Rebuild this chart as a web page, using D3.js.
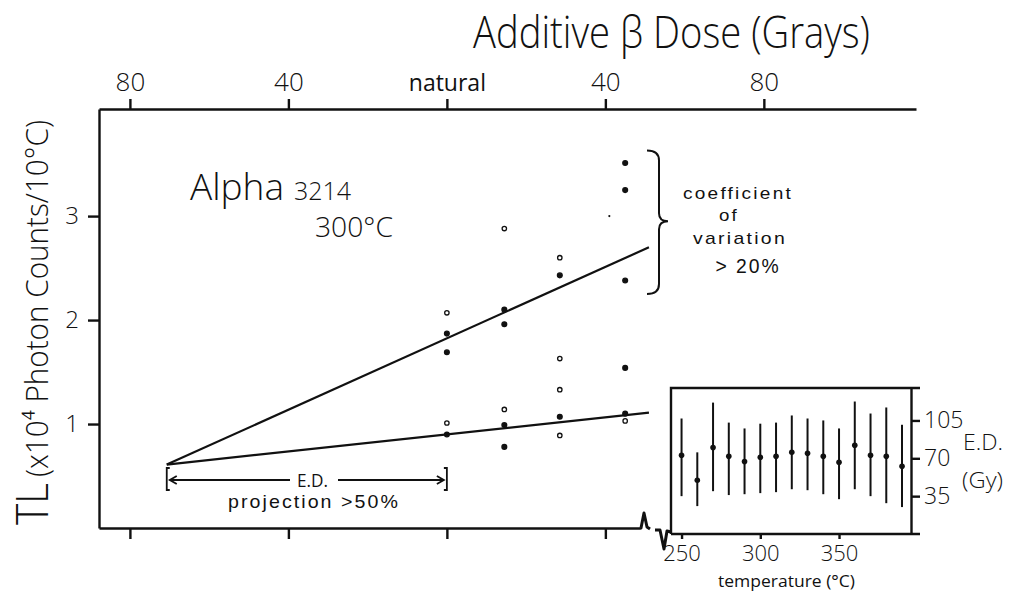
<!DOCTYPE html>
<html>
<head>
<meta charset="utf-8">
<script src="https://cdn.jsdelivr.net/npm/d3@7"></script>
<style>
  body { margin: 0; background: #fff; }
  svg { display: block; }
  text { font-family: 'Open Sans', 'Liberation Sans', sans-serif; font-weight: 300; fill: #111; }
  .eixo path, .eixo line { stroke: #111; stroke-width: 2.4; }
  .eixo text { font-family: 'Open Sans', 'Liberation Sans', sans-serif; font-weight: 400; fill: #111; }
  .rotulo-fino { font-family: 'Liberation Sans', sans-serif; font-weight: 400; letter-spacing: 2px; }
</style>
</head>
<body>
<svg id="grafico"></svg>
<script>
// dose aditiva (Gy), negativa a esquerda do "natural"
const doseTicks = [-80, -40, 0, 40, 80];
const doseTickLabels = ['80', '40', 'natural', '40', '80'];
const tlTicks = [1, 2, 3];

// pontos medidos: dose, TL (x10^4), aberto?
const pointDose = [0, 0, 0, 0, 0,
  14.5, 14.5, 14.5, 14.5, 14.5, 14.5,
  28.5, 28.5, 28.5, 28.5, 28.5, 28.5,
  45, 45, 45, 45, 45, 45];
const pointTL = [2.07, 1.87, 1.69, 1.01, 0.90,
  2.88, 2.10, 1.96, 1.14, 0.99, 0.78,
  2.60, 2.43, 1.63, 1.33, 1.07, 0.89,
  3.51, 3.25, 2.38, 1.54, 1.10, 1.03];
const pointOpen = [1, 0, 0, 1, 0,
  1, 0, 0, 1, 0, 0,
  1, 0, 1, 1, 0, 1,
  0, 0, 0, 0, 0, 1];
const speckDose = [41];
const speckTL = [3.0];

// retas ajustadas (extrapoladas ate o eixo de dose)
const upperLine = [[-70.7, 0.61], [51, 2.70]];
const lowerLine = [[-70.7, 0.61], [51, 1.11]];

// grafico inserido: E.D. por temperatura
const temps = [250, 260, 270, 280, 290, 300, 310, 320, 330, 340, 350, 360, 370, 380, 390];
const edCenter = [72.8, 49.7, 80, 71.8, 67, 70.9, 71.8, 75.5, 74.6, 71.8, 66.3, 82, 72.8, 71.8, 62.6];
const edLow = [35, 25.8, 39.6, 36, 36.8, 37.8, 38.7, 41.4, 40.5, 36.8, 32.2, 41.4, 35, 28.5, 24.9];
const edHigh = [106.8, 75.5, 121.5, 103, 97.6, 102, 103, 109.6, 106.8, 105, 97.6, 122.5, 111.4, 117, 101];
const tempTicks = [250, 300, 350];
const edTicks = [35, 70, 105];

const largura = 1010, altura = 597;
const svg = d3.select('#grafico').attr('width', largura).attr('height', altura);

// escalas principais
const x = d3.scaleLinear().domain([-87.8, 118.4]).range([99, 916]);
const y = d3.scaleLinear().domain([0, 4.03]).range([528, 109]);

// eixo superior (dose)
svg.append('g')
    .attr('class', 'eixo')
    .attr('transform', `translate(0, ${y.range()[1]})`)
    .call(d3.axisTop(x).tickValues(doseTicks).tickSize(10).tickSizeOuter(0).tickPadding(8)
      .tickFormat((d, i) => doseTickLabels[i]))
    .call(g => g.selectAll('text').style('font-size', d => d === 0 ? '23px' : '26px').style('font-weight', d => d === 0 ? 400 : 300));

// eixo inferior, interrompido antes do grafico inserido
const xInf = x.copy().domain([x.domain()[0], x.invert(640)]).range([99, 640]);
svg.append('g')
    .attr('class', 'eixo')
    .attr('transform', `translate(0, ${y.range()[0]})`)
    .call(d3.axisBottom(xInf).tickValues(doseTicks.slice(0, 4)).tickSize(11).tickSizeOuter(0).tickFormat(''));

// quebra do eixo
const y0 = y(0);
svg.append('path')
    .attr('d', `M640,${y0} L641,${y0} L644,${y0 - 15} L647,${y0 - 1} L650,${y0 + 1}
                M655,${y0 + 2} L660,${y0 + 2} L664,${y0 + 21} L667,${y0 + 3} L671,${y0 + 4}`)
    .attr('fill', 'none').attr('stroke', '#111').attr('stroke-width', 3).attr('stroke-linejoin', 'round');

// eixo Y
svg.append('g')
    .attr('class', 'eixo')
    .attr('transform', `translate(${x.range()[0]}, 0)`)
    .call(d3.axisLeft(y).tickValues(tlTicks).tickSize(11).tickSizeOuter(0).tickPadding(9).tickFormat(d3.format('d')))
    .call(g => g.selectAll('text').style('font-size', '24px').style('font-weight', 300));

// titulo do eixo superior
svg.append('text')
    .attr('x', 473).attr('y', 48)
    .attr('textLength', 397).attr('lengthAdjust', 'spacingAndGlyphs')
    .style('font-size', '44px')
    .text('Additive β Dose (Grays)');

// titulo do eixo Y
const tituloY = svg.append('g').attr('transform', 'translate(48, 525) rotate(-90)');
tituloY.append('text')
    .attr('x', 0).attr('y', 0)
    .attr('textLength', 42).attr('lengthAdjust', 'spacingAndGlyphs')
    .style('font-size', '44px')
    .text('TL');
tituloY.append('text')
    .attr('x', 48).attr('y', 0)
    .attr('textLength', 357).attr('lengthAdjust', 'spacingAndGlyphs')
    .style('font-size', '31px')
    .text('(x10\u2074 Photon Counts/10°C)');

// retas
const linha = d3.line().x(d => x(d[0])).y(d => y(d[1]));
svg.selectAll('.reta')
    .data([upperLine, lowerLine])
    .enter()
    .append('path')
    .classed('reta', true)
    .attr('d', linha)
    .attr('fill', 'none').attr('stroke', '#111').attr('stroke-width', 2.2);

// pontos
svg.selectAll('.ponto')
    .data(pointDose.map((d, i) => ({ dose: d, tl: pointTL[i], aberto: pointOpen[i] })))
    .enter()
    .append('circle')
    .classed('ponto', true)
    .attr('cx', d => x(d.dose))
    .attr('cy', d => y(d.tl))
    .attr('r', d => d.aberto ? 2.2 : 2.4)
    .attr('fill', d => d.aberto ? '#fff' : '#111')
    .attr('stroke', '#111').attr('stroke-width', 1.3);

svg.selectAll('.pinta')
    .data(speckDose.map((d, i) => [d, speckTL[i]]))
    .enter()
    .append('circle')
    .attr('cx', d => x(d[0])).attr('cy', d => y(d[1])).attr('r', 1.1).attr('fill', '#111');

// anotacoes
const alpha = svg.append('text').attr('x', 190).attr('y', 200);
alpha.append('tspan').style('font-size', '37px').text('Alpha');
alpha.append('tspan').attr('dx', 10).style('font-size', '25px').text('3214');
svg.append('text')
    .attr('x', 315).attr('y', 237)
    .attr('textLength', 78).attr('lengthAdjust', 'spacingAndGlyphs')
    .style('font-size', '28px')
    .text('300°C');

// chave do coeficiente de variacao
const cTop = y(3.63), cBot = y(2.25), cMid = y(2.95), cx0 = 647, cx1 = 659;
svg.append('path')
    .attr('d', `M${cx0},${cTop} Q${cx1},${cTop} ${cx1},${cTop + 10} L${cx1},${cMid - 8}
                Q${cx1},${cMid} ${cx1 + 9},${cMid} Q${cx1},${cMid} ${cx1},${cMid + 8}
                L${cx1},${cBot - 10} Q${cx1},${cBot} ${cx0},${cBot}`)
    .attr('fill', 'none').attr('stroke', '#111').attr('stroke-width', 2);

const notas = [
  { t: 'coefficient', x: 738, y: 199, w: 110, s: 17 },
  { t: 'of', x: 729, y: 221, w: 20, s: 17 },
  { t: 'variation', x: 740, y: 244, w: 94, s: 17 },
  { t: '> 20%', x: 748, y: 273, w: 65, s: 20 }
];
svg.selectAll('.nota')
    .data(notas)
    .enter()
    .append('text')
    .classed('rotulo-fino', true)
    .attr('x', d => d.x - d.w / 2).attr('y', d => d.y)
    .attr('textLength', d => d.w).attr('lengthAdjust', 'spacingAndGlyphs')
    .style('font-size', d => d.s + 'px')
    .text(d => d.t);

// faixa de projecao do E.D.
const edL = x(upperLine[0][0]), edR = x(0), edY = 480;
const faixa = svg.append('g').attr('stroke', '#111').attr('fill', 'none').attr('stroke-width', 1.8);
faixa.append('path').attr('d', `M${edL + 3},468 L${edL},468 L${edL},490 L${edL + 3},490`);
faixa.append('path').attr('d', `M${edR - 3},468 L${edR},468 L${edR},490 L${edR - 3},490`);
faixa.append('path').attr('d', `M${edL + 3},${edY} L290,${edY} M338,${edY} L${edR - 3},${edY}`);
faixa.append('path').attr('d', `M${edL + 10},${edY - 4} L${edL + 3},${edY} L${edL + 10},${edY + 4}`);
faixa.append('path').attr('d', `M${edR - 10},${edY - 4} L${edR - 3},${edY} L${edR - 10},${edY + 4}`);
svg.append('text')
    .attr('x', 297).attr('y', 487)
    .attr('textLength', 31).attr('lengthAdjust', 'spacingAndGlyphs')
    .style('font-size', '18px').style('font-weight', 400)
    .text('E.D.');
svg.append('text')
    .classed('rotulo-fino', true)
    .attr('x', 228).attr('y', 508)
    .attr('textLength', 172).attr('lengthAdjust', 'spacingAndGlyphs')
    .style('font-size', '19px')
    .text('projection >50%');

// grafico inserido
const tx = d3.scaleLinear().domain([243.3, 395.7]).range([671, 911]);
const ey = d3.scaleLinear().domain([0, 135]).range([534, 388]);
const inset = svg.append('g');

inset.append('g')
    .attr('class', 'eixo')
    .attr('transform', `translate(0, ${ey.range()[0]})`)
    .call(d3.axisBottom(tx).tickValues(tempTicks).tickSize(5).tickSizeOuter(0).tickPadding(6))
    .call(g => g.select('.domain').attr('d', `M${tx.range()[0]},0 H920`))
    .call(g => g.selectAll('text').style('font-size', '22px').style('font-weight', 300));

inset.append('g')
    .attr('class', 'eixo')
    .attr('transform', `translate(${tx.range()[1]}, 0)`)
    .call(d3.axisRight(ey).tickValues(edTicks).tickSize(9).tickSizeOuter(0).tickPadding(4))
    .call(g => g.selectAll('text').style('font-size', '23px').style('font-weight', 300));

inset.append('path')
    .attr('d', `M${tx.range()[0]},${ey.range()[0]} V${ey.range()[1]} H920`)
    .attr('fill', 'none').attr('stroke', '#111').attr('stroke-width', 2.4);

const barras = temps.map((t, i) => ({ t: t, c: edCenter[i], lo: edLow[i], hi: edHigh[i] }));
inset.selectAll('.barra-erro')
    .data(barras)
    .enter()
    .append('line')
    .classed('barra-erro', true)
    .attr('x1', d => tx(d.t)).attr('x2', d => tx(d.t))
    .attr('y1', d => ey(d.lo)).attr('y2', d => ey(d.hi))
    .attr('stroke', '#111').attr('stroke-width', 2);
inset.selectAll('.centro')
    .data(barras)
    .enter()
    .append('circle')
    .classed('centro', true)
    .attr('cx', d => tx(d.t)).attr('cy', d => ey(d.c)).attr('r', 2.8)
    .attr('fill', '#111');

inset.append('text')
    .attr('x', 963).attr('y', 450)
    .attr('textLength', 40).attr('lengthAdjust', 'spacingAndGlyphs')
    .style('font-size', '22px')
    .text('E.D.');
inset.append('text')
    .attr('x', 962).attr('y', 488)
    .attr('textLength', 41).attr('lengthAdjust', 'spacingAndGlyphs')
    .style('font-size', '22px')
    .text('(Gy)');
inset.append('text')
    .attr('x', 718).attr('y', 587)
    .attr('textLength', 137).attr('lengthAdjust', 'spacingAndGlyphs')
    .style('font-size', '17px').style('font-weight', 400)
    .text('temperature (°C)');
</script>
</body>
</html>
